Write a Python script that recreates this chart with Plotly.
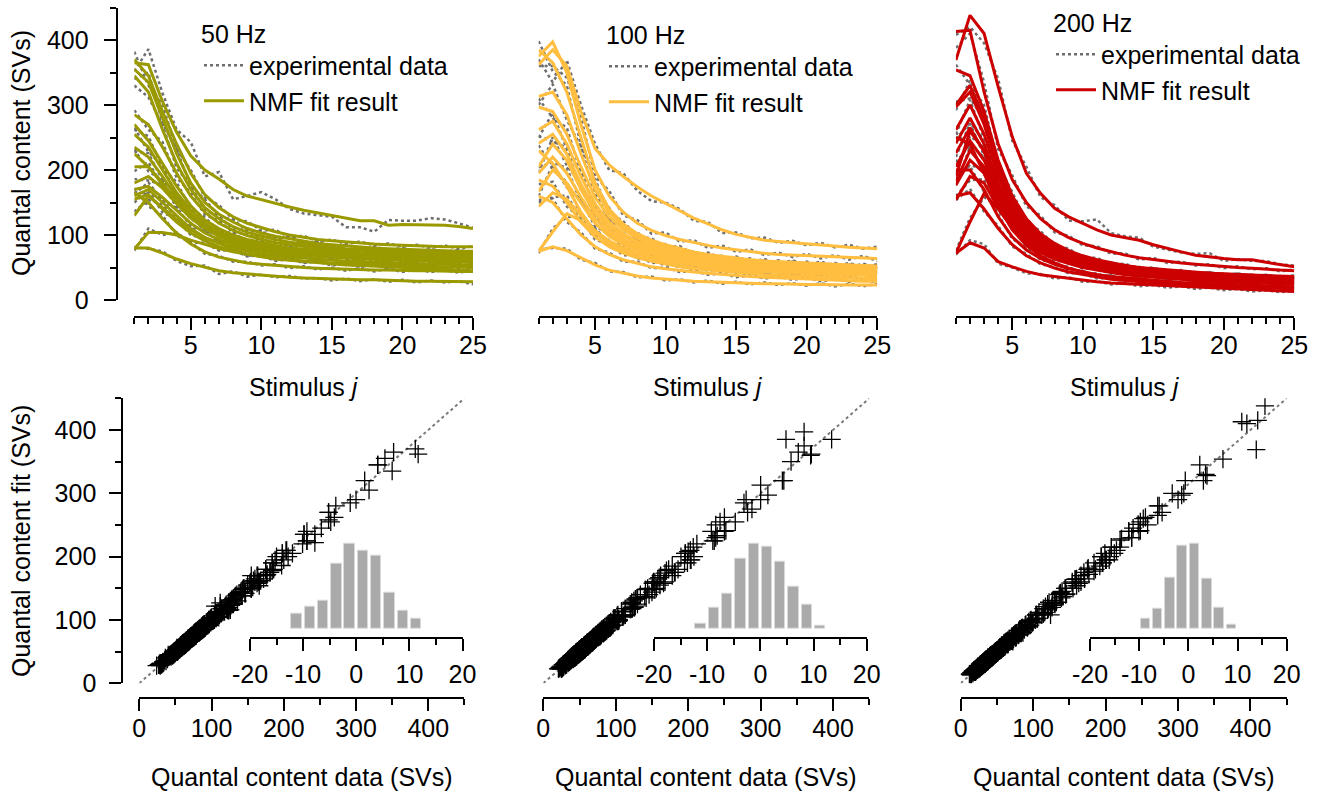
import plotly.graph_objects as go

W, H = 1323, 793
FONT = "Liberation Sans, Arial, sans-serif"

stimulus = list(range(1, 26))

# ---------------- 50 Hz ----------------
fit_50 = [
    [365, 362, 305, 258, 222, 200, 186, 170, 160, 154, 149, 143, 138, 134, 130, 127, 122, 122, 115, 116, 116, 116, 115, 113, 110],
    [370, 345, 290, 240, 195, 162, 142, 128, 118, 111, 105, 100, 96, 93, 91, 89, 87, 86, 85, 84, 83, 83, 82, 82, 82],
    [355, 335, 280, 225, 180, 150, 132, 120, 110, 103, 98, 94, 90, 87, 85, 83, 81, 80, 79, 78, 77, 76, 76, 75, 75],
    [345, 320, 262, 210, 170, 142, 125, 113, 104, 98, 93, 89, 86, 83, 81, 79, 78, 77, 76, 75, 74, 73, 73, 72, 72],
    [285, 270, 235, 195, 160, 135, 118, 107, 99, 93, 88, 85, 82, 80, 78, 76, 75, 74, 73, 72, 71, 70, 70, 69, 69],
    [270, 245, 210, 175, 145, 123, 110, 100, 93, 88, 84, 80, 78, 76, 74, 72, 71, 70, 69, 68, 67, 67, 66, 66, 65],
    [255, 235, 200, 165, 138, 118, 105, 96, 89, 84, 80, 77, 74, 72, 70, 69, 68, 67, 66, 65, 64, 64, 63, 63, 62],
    [235, 220, 190, 158, 132, 113, 101, 92, 86, 81, 77, 74, 72, 70, 68, 67, 66, 65, 64, 63, 62, 62, 61, 61, 60],
    [225, 205, 178, 150, 127, 110, 98, 90, 84, 79, 75, 72, 70, 68, 66, 65, 64, 63, 62, 61, 60, 60, 59, 59, 58],
    [205, 205, 180, 152, 128, 111, 100, 93, 87, 83, 80, 77, 75, 73, 72, 71, 70, 69, 68, 67, 66, 66, 65, 65, 64],
    [180, 190, 172, 148, 126, 110, 99, 91, 85, 81, 78, 75, 73, 71, 70, 69, 68, 67, 66, 65, 65, 64, 64, 63, 63],
    [170, 175, 158, 138, 118, 103, 93, 86, 80, 76, 73, 71, 69, 67, 66, 65, 64, 63, 62, 61, 61, 60, 60, 59, 59],
    [160, 170, 150, 130, 110, 96, 87, 80, 75, 71, 68, 66, 64, 62, 61, 60, 59, 58, 57, 56, 56, 55, 55, 54, 54],
    [155, 162, 140, 120, 103, 91, 82, 76, 71, 67, 64, 62, 60, 58, 57, 56, 55, 54, 53, 52, 52, 51, 51, 50, 50],
    [130, 160, 142, 124, 108, 96, 88, 82, 78, 75, 72, 70, 68, 67, 66, 65, 64, 63, 62, 62, 61, 61, 60, 60, 60],
    [165, 150, 125, 103, 86, 74, 66, 61, 57, 55, 53, 51, 50, 49, 48, 47, 47, 46, 46, 45, 45, 45, 44, 44, 44],
    [78, 104, 104, 100, 92, 85, 79, 74, 70, 66, 63, 61, 59, 57, 55, 54, 53, 52, 51, 50, 49, 48, 47, 46, 45],
    [80, 80, 72, 63, 56, 50, 45, 42, 40, 38, 36, 35, 34, 33, 32, 32, 31, 31, 30, 30, 29, 29, 29, 28, 28],
]
data_50 = [
    [352, 386, 318, 262, 243, 190, 197, 155, 160, 166, 155, 140, 133, 130, 128, 112, 112, 105, 123, 122, 122, 126, 124, 118, 111],
    [382, 330, 300, 232, 200, 158, 146, 124, 121, 107, 108, 96, 99, 90, 93, 86, 90, 84, 87, 82, 85, 80, 84, 79, 83],
    [340, 350, 272, 232, 175, 155, 128, 124, 106, 106, 95, 97, 87, 90, 83, 85, 79, 82, 77, 80, 75, 78, 74, 77, 73],
    [330, 312, 270, 203, 176, 138, 129, 109, 107, 95, 96, 86, 88, 81, 83, 77, 80, 75, 78, 73, 76, 71, 75, 70, 74],
    [292, 262, 243, 188, 165, 131, 122, 104, 102, 90, 91, 82, 84, 78, 80, 74, 77, 72, 75, 70, 73, 68, 72, 67, 71],
    [262, 252, 204, 181, 141, 127, 106, 103, 90, 91, 81, 82, 76, 78, 72, 74, 69, 72, 67, 70, 65, 69, 64, 68, 63],
    [265, 228, 206, 160, 142, 114, 108, 93, 92, 81, 83, 75, 76, 70, 72, 67, 70, 65, 68, 63, 66, 62, 65, 61, 64],
    [228, 226, 184, 163, 128, 116, 98, 95, 83, 84, 75, 76, 70, 72, 66, 69, 64, 67, 62, 65, 60, 64, 59, 63, 58],
    [232, 198, 184, 145, 131, 106, 101, 87, 87, 76, 78, 70, 72, 66, 68, 63, 66, 61, 64, 59, 62, 58, 61, 57, 60],
    [198, 212, 175, 157, 124, 114, 97, 96, 84, 86, 77, 79, 73, 75, 70, 73, 68, 71, 66, 69, 64, 68, 63, 67, 62],
    [186, 184, 177, 143, 130, 106, 102, 88, 88, 78, 80, 73, 75, 69, 72, 67, 70, 65, 68, 63, 67, 62, 66, 61, 65],
    [163, 181, 153, 142, 114, 106, 90, 89, 77, 79, 71, 73, 67, 69, 64, 67, 62, 65, 60, 63, 59, 62, 58, 61, 57],
    [166, 164, 155, 126, 113, 93, 90, 77, 78, 69, 70, 64, 66, 60, 63, 58, 61, 56, 59, 54, 58, 53, 57, 52, 56],
    [150, 168, 135, 124, 100, 94, 79, 79, 68, 69, 62, 64, 58, 60, 55, 58, 53, 56, 51, 54, 50, 53, 49, 52, 48],
    [136, 154, 147, 120, 111, 93, 91, 79, 80, 73, 74, 68, 70, 65, 68, 63, 66, 61, 64, 60, 63, 59, 62, 58, 62],
    [172, 144, 130, 99, 89, 71, 68, 59, 59, 53, 55, 49, 52, 47, 50, 45, 49, 44, 48, 43, 47, 43, 46, 42, 46],
    [76, 110, 100, 104, 88, 88, 76, 77, 67, 69, 60, 63, 57, 59, 53, 56, 51, 54, 49, 52, 47, 50, 45, 48, 43],
    [82, 78, 75, 60, 52, 53, 40, 44, 36, 39, 35, 37, 33, 34, 30, 33, 29, 32, 28, 31, 27, 30, 27, 29, 24],
]

# ---------------- 100 Hz ----------------
fit_100 = [
    [362, 385, 360, 290, 233, 208, 190, 174, 160, 149, 137, 126, 117, 108, 101, 96, 92, 90, 88, 86, 84, 83, 81, 80, 79],
    [375, 397, 350, 270, 200, 160, 135, 118, 107, 99, 93, 88, 84, 80, 77, 74, 72, 70, 69, 68, 67, 66, 65, 65, 64],
    [385, 365, 320, 250, 180, 140, 117, 102, 92, 85, 79, 74, 70, 67, 64, 62, 60, 59, 58, 57, 56, 55, 54, 53, 52],
    [313, 320, 285, 225, 170, 135, 113, 99, 89, 82, 77, 72, 68, 65, 63, 61, 59, 58, 57, 56, 55, 54, 53, 53, 52],
    [297, 290, 255, 205, 158, 128, 108, 95, 86, 79, 74, 70, 67, 64, 62, 60, 58, 57, 56, 55, 54, 53, 52, 52, 51],
    [262, 275, 240, 190, 148, 120, 102, 90, 82, 76, 71, 67, 64, 62, 60, 58, 57, 56, 55, 54, 53, 52, 52, 51, 51],
    [241, 255, 225, 178, 140, 114, 98, 87, 79, 73, 69, 65, 62, 60, 58, 56, 55, 54, 53, 52, 51, 51, 50, 50, 49],
    [205, 240, 215, 170, 133, 108, 93, 83, 76, 70, 66, 63, 60, 58, 56, 55, 54, 53, 52, 51, 50, 50, 49, 49, 48],
    [195, 220, 195, 158, 125, 103, 89, 80, 73, 68, 64, 61, 58, 56, 55, 53, 52, 51, 50, 49, 48, 48, 47, 47, 46],
    [167, 200, 180, 148, 118, 98, 85, 76, 70, 65, 61, 58, 56, 54, 52, 51, 50, 49, 48, 47, 46, 46, 45, 45, 44],
    [144, 165, 155, 130, 107, 91, 80, 72, 66, 62, 58, 55, 53, 51, 49, 48, 47, 46, 45, 44, 43, 43, 42, 42, 41],
    [185, 175, 150, 120, 97, 82, 72, 65, 60, 56, 53, 50, 48, 46, 45, 44, 43, 42, 41, 40, 39, 39, 38, 38, 37],
    [75, 105, 133, 122, 103, 88, 77, 70, 64, 60, 57, 54, 52, 50, 48, 47, 46, 45, 44, 43, 42, 42, 41, 41, 40],
    [75, 82, 76, 65, 54, 46, 41, 37, 34, 32, 30, 29, 28, 27, 26, 26, 25, 25, 24, 24, 24, 23, 23, 23, 23],
    [230, 210, 175, 135, 105, 86, 74, 66, 60, 55, 51, 48, 46, 44, 42, 40, 39, 38, 37, 36, 35, 34, 34, 33, 33],
    [160, 150, 125, 100, 82, 70, 62, 56, 51, 48, 45, 43, 41, 39, 37, 36, 35, 34, 33, 32, 31, 30, 30, 29, 29],
]
data_100 = [
    [370, 335, 369, 300, 240, 200, 195, 168, 152, 150, 140, 122, 120, 103, 104, 95, 96, 88, 91, 84, 88, 81, 85, 79, 82],
    [360, 360, 342, 282, 190, 168, 130, 123, 102, 104, 90, 92, 80, 84, 74, 78, 69, 73, 66, 71, 64, 69, 62, 68, 60],
    [398, 352, 330, 238, 186, 134, 121, 97, 95, 81, 83, 70, 73, 64, 67, 59, 63, 56, 61, 54, 59, 52, 57, 50, 55],
    [300, 332, 277, 236, 162, 142, 108, 104, 85, 86, 73, 75, 65, 68, 60, 64, 56, 61, 54, 59, 52, 57, 50, 56, 49],
    [310, 280, 265, 196, 166, 122, 113, 91, 90, 75, 78, 67, 70, 61, 65, 57, 61, 54, 59, 52, 57, 50, 55, 49, 54],
    [250, 288, 232, 199, 141, 126, 97, 94, 78, 80, 68, 70, 61, 65, 57, 61, 54, 59, 52, 57, 50, 55, 49, 54, 48],
    [252, 244, 234, 170, 146, 108, 103, 83, 83, 69, 72, 62, 65, 57, 61, 53, 58, 51, 56, 49, 54, 48, 53, 47, 52],
    [196, 250, 207, 178, 127, 113, 89, 87, 72, 73, 63, 66, 57, 61, 53, 58, 51, 56, 49, 54, 47, 53, 46, 52, 45],
    [204, 212, 203, 151, 130, 99, 93, 76, 76, 65, 67, 58, 61, 53, 58, 50, 55, 48, 53, 46, 51, 45, 50, 44, 49],
    [160, 208, 173, 154, 113, 102, 81, 79, 67, 68, 58, 61, 53, 57, 49, 54, 47, 52, 45, 50, 43, 49, 42, 48, 41],
    [150, 158, 161, 125, 111, 87, 83, 69, 69, 59, 61, 52, 56, 48, 52, 45, 50, 43, 48, 41, 46, 40, 45, 39, 44],
    [178, 182, 144, 125, 93, 85, 69, 68, 57, 58, 50, 52, 45, 48, 42, 47, 40, 45, 38, 43, 36, 42, 35, 41, 34],
    [72, 110, 128, 127, 99, 92, 74, 73, 61, 63, 54, 57, 49, 53, 45, 50, 43, 48, 41, 46, 39, 45, 38, 44, 37],
    [78, 80, 79, 62, 57, 44, 43, 35, 36, 30, 32, 27, 30, 25, 28, 24, 27, 23, 26, 22, 26, 21, 25, 21, 25],
    [238, 203, 181, 130, 109, 83, 77, 63, 62, 53, 53, 46, 48, 42, 44, 38, 41, 36, 39, 34, 37, 32, 36, 31, 35],
    [154, 156, 120, 104, 79, 73, 59, 59, 49, 50, 43, 45, 39, 41, 35, 38, 33, 36, 31, 34, 29, 32, 28, 31, 27],
]

# ---------------- 200 Hz ----------------
fit_200 = [
    [369, 438, 410, 328, 251, 195, 164, 141, 128, 118, 108, 100, 96, 92, 85, 79, 74, 69, 66, 64, 62, 62, 58, 54, 51],
    [413, 415, 320, 240, 185, 150, 125, 108, 96, 87, 80, 74, 69, 65, 62, 59, 57, 55, 53, 51, 50, 49, 47, 46, 45],
    [354, 345, 290, 215, 160, 125, 102, 87, 76, 68, 62, 57, 53, 50, 48, 46, 44, 42, 41, 40, 39, 38, 37, 37, 36],
    [297, 320, 270, 200, 150, 118, 97, 83, 73, 66, 60, 55, 52, 49, 46, 44, 42, 40, 39, 38, 37, 36, 35, 35, 34],
    [262, 300, 255, 190, 143, 112, 93, 80, 70, 63, 57, 53, 50, 47, 44, 42, 40, 39, 38, 37, 36, 35, 34, 34, 33],
    [241, 280, 240, 180, 137, 108, 89, 76, 67, 60, 55, 51, 48, 45, 42, 40, 38, 37, 36, 35, 34, 33, 32, 32, 31],
    [226, 265, 228, 172, 131, 103, 85, 73, 64, 58, 53, 49, 46, 43, 40, 38, 37, 35, 34, 33, 32, 31, 30, 30, 29],
    [205, 245, 215, 165, 126, 99, 82, 70, 62, 56, 51, 47, 44, 41, 39, 37, 35, 34, 33, 32, 31, 30, 29, 29, 28],
    [182, 230, 205, 158, 121, 96, 79, 68, 60, 54, 49, 45, 42, 40, 38, 36, 34, 33, 32, 31, 30, 29, 28, 28, 27],
    [177, 215, 195, 150, 116, 92, 77, 66, 58, 52, 47, 44, 41, 38, 36, 34, 33, 31, 30, 29, 28, 27, 27, 26, 26],
    [154, 190, 180, 142, 110, 88, 73, 63, 56, 50, 46, 42, 39, 37, 35, 33, 31, 30, 29, 28, 27, 26, 25, 25, 24],
    [72, 120, 164, 140, 112, 91, 77, 67, 60, 55, 51, 47, 45, 42, 40, 38, 37, 36, 35, 34, 33, 32, 32, 31, 31],
    [72, 88, 80, 59, 51, 44, 39, 36, 33, 30, 28, 26, 25, 23, 22, 21, 20, 19, 18, 17, 16, 15, 14, 14, 13],
    [190, 260, 230, 175, 135, 108, 90, 78, 70, 64, 59, 55, 52, 49, 47, 45, 43, 42, 41, 40, 39, 38, 37, 36, 35],
    [200, 200, 170, 128, 97, 77, 64, 55, 48, 43, 39, 36, 34, 32, 30, 28, 27, 26, 25, 24, 23, 22, 21, 21, 20],
    [250, 240, 195, 145, 108, 84, 68, 57, 49, 43, 39, 35, 32, 30, 28, 26, 25, 24, 23, 22, 21, 20, 19, 19, 18],
    [160, 165, 140, 110, 85, 68, 57, 49, 43, 39, 35, 32, 30, 28, 26, 25, 24, 23, 22, 21, 20, 19, 18, 18, 17],
    [300, 330, 280, 210, 158, 123, 100, 85, 74, 66, 60, 56, 52, 49, 46, 44, 42, 41, 40, 39, 38, 37, 36, 35, 35],
]
data_200 = [
    [408, 420, 395, 340, 245, 205, 158, 146, 122, 121, 124, 103, 98, 96, 82, 77, 73, 71, 72, 60, 63, 60, 60, 55, 53],
    [388, 410, 335, 232, 192, 144, 130, 104, 99, 84, 83, 71, 72, 62, 65, 57, 59, 53, 55, 49, 52, 47, 49, 44, 47],
    [362, 330, 300, 208, 166, 120, 106, 84, 79, 65, 65, 54, 56, 48, 50, 44, 46, 40, 43, 38, 41, 36, 39, 35, 38],
    [305, 310, 278, 194, 155, 114, 100, 80, 76, 63, 62, 53, 54, 47, 48, 42, 44, 38, 41, 36, 39, 34, 37, 33, 36],
    [255, 308, 248, 196, 138, 116, 90, 83, 67, 65, 55, 55, 48, 49, 42, 44, 38, 41, 36, 39, 34, 37, 32, 36, 31],
    [248, 272, 246, 175, 141, 104, 92, 73, 70, 58, 57, 49, 50, 43, 44, 38, 40, 35, 38, 33, 36, 31, 34, 30, 33],
    [220, 272, 222, 177, 127, 106, 82, 76, 61, 60, 51, 51, 44, 45, 38, 40, 35, 37, 32, 35, 30, 33, 28, 32, 27],
    [212, 238, 220, 160, 130, 96, 85, 67, 65, 54, 53, 45, 46, 39, 41, 35, 37, 32, 35, 30, 33, 28, 31, 27, 30],
    [176, 236, 199, 163, 117, 99, 76, 71, 57, 56, 47, 47, 40, 42, 36, 38, 32, 35, 30, 33, 28, 31, 26, 30, 25],
    [184, 208, 200, 145, 120, 89, 80, 63, 61, 50, 49, 42, 43, 36, 38, 32, 35, 29, 32, 27, 30, 25, 29, 24, 28],
    [160, 184, 186, 137, 114, 85, 76, 60, 59, 48, 48, 40, 41, 35, 37, 31, 33, 28, 31, 26, 29, 24, 27, 23, 26],
    [76, 126, 158, 145, 108, 94, 74, 70, 57, 57, 49, 49, 43, 44, 38, 40, 35, 38, 33, 36, 31, 34, 30, 33, 29],
    [70, 92, 86, 56, 50, 41, 40, 33, 35, 28, 29, 24, 26, 21, 23, 19, 21, 17, 19, 15, 17, 13, 15, 12, 14],
    [196, 252, 236, 170, 139, 105, 93, 75, 73, 62, 61, 53, 54, 47, 49, 43, 45, 40, 43, 38, 41, 36, 39, 34, 37],
    [194, 206, 166, 132, 94, 80, 62, 57, 46, 45, 37, 38, 32, 34, 28, 30, 25, 28, 23, 26, 21, 24, 19, 23, 18],
    [258, 232, 201, 140, 112, 81, 71, 55, 51, 41, 41, 33, 34, 28, 30, 24, 27, 22, 25, 20, 23, 18, 21, 17, 20],
    [154, 171, 136, 114, 82, 71, 55, 51, 41, 41, 33, 34, 28, 30, 24, 27, 22, 25, 20, 23, 18, 21, 16, 20, 15],
    [292, 338, 274, 215, 154, 126, 97, 88, 71, 68, 58, 58, 50, 51, 44, 46, 40, 43, 38, 41, 36, 39, 34, 37, 33],
]

# ---------------- residual histograms (insets) ----------------
hist_centers_50 = [-11.25, -8.75, -6.25, -3.75, -1.25, 1.25, 3.75, 6.25, 8.75, 11.25]
hist_counts_50 = [17, 26, 33, 77, 101, 93, 87, 43, 21, 12]
hist_centers_100 = [-11.25, -8.75, -6.25, -3.75, -1.25, 1.25, 3.75, 6.25, 8.75, 11.25]
hist_counts_100 = [6, 25, 41, 83, 102, 98, 80, 50, 28, 3]
hist_centers_200 = [-8.75, -6.25, -3.75, -1.25, 1.25, 3.75, 6.25, 8.75]
hist_counts_200 = [11, 23, 61, 99, 102, 60, 25, 4]

diag = [0, 450]
inset_ticks = [-20, -10, 0, 10, 20]
inset_ticktext = ["-20", "-10", "0", "10", "20"]

panels = [
    ("50 Hz", fit_50, data_50, "#9A9A00", hist_centers_50, hist_counts_50),
    ("100 Hz", fit_100, data_100, "#FFBE3F", hist_centers_100, hist_counts_100),
    ("200 Hz", fit_200, data_200, "#CC0000", hist_centers_200, hist_counts_200),
]

# ---------------- pixel-based layout helpers ----------------
def px(x):
    return x / W

def py(y):
    return 1 - y / H

top_xdom = [(134.3, 473.0), (538.6, 877.3), (955.9, 1294.3)]
top_ydom = (300.0, 7.5)
bot_xdom = [(139.3, 464.4), (543.3, 869.3), (960.7, 1286.7)]
bot_ydom = (683.3, 398.3)
ins_xdom = [(250.0, 462.5), (654.0, 866.7), (1090.0, 1286.7)]
ins_ydom = (636.7, 536.7)
legend_pos = [(199, 10), (604, 11), (1051, -1)]

fig = go.Figure()

for k, (name, fits, datas, color, hc, hn) in enumerate(panels):
    s = "" if k == 0 else str(k + 1)
    xa_t, ya_t = "x" + s, "y" + s
    xa_b, ya_b = "x" + str(k + 4), "y" + str(k + 4)
    xa_i, ya_i = "x" + str(k + 7), "y" + str(k + 7)
    leg = "legend" + s

    # experimental data (dotted gray)
    for i, d in enumerate(datas):
        fig.add_trace(go.Scatter(
            x=stimulus, y=d, mode="lines", xaxis=xa_t, yaxis=ya_t,
            line=dict(color="#6E6E6E", width=2.5, dash="dot"),
            name="experimental data", showlegend=(i == 0), legend=leg,
            hoverinfo="skip"))
    # NMF fits
    for i, f in enumerate(fits):
        fig.add_trace(go.Scatter(
            x=stimulus, y=f, mode="lines", xaxis=xa_t, yaxis=ya_t,
            line=dict(color=color, width=3),
            name="NMF fit result", showlegend=(i == 0), legend=leg,
            hoverinfo="skip"))

    # scatter: data vs fit
    xs = [v for d in datas for v in d]
    ys = [v for f in fits for v in f]
    fig.add_trace(go.Scatter(
        x=diag, y=diag, mode="lines", xaxis=xa_b, yaxis=ya_b,
        line=dict(color="#7A7A7A", width=2, dash="dot"), showlegend=False))
    fig.add_trace(go.Scatter(
        x=xs, y=ys, mode="markers", xaxis=xa_b, yaxis=ya_b,
        marker=dict(symbol="cross-thin", size=13, color="black",
                    line=dict(color="black", width=1.3)),
        showlegend=False))

    # histogram inset
    fig.add_trace(go.Bar(
        x=hc, y=hn, xaxis=xa_i, yaxis=ya_i, width=1.95,
        marker=dict(color="#AAAAAA", line=dict(color="#DADADA", width=1)),
        showlegend=False))

axis_common = dict(
    showline=True, linecolor="black", linewidth=2, mirror=False,
    ticks="outside", tickcolor="black", tickwidth=2, ticklen=12,
    showgrid=False, zeroline=False, automargin=False,
    tickfont=dict(family=FONT, size=25, color="black"),
    minor=dict(ticks="outside", ticklen=6, tickwidth=2, tickcolor="black", showgrid=False),
)

layout = dict(
    template="none",
    width=W, height=H, margin=dict(l=0, r=0, t=0, b=0, pad=0, autoexpand=False),
    paper_bgcolor="white", plot_bgcolor="rgba(0,0,0,0)",
    font=dict(family=FONT, size=25, color="black"),
    showlegend=True, bargap=0,
)

for k in range(3):
    s = "" if k == 0 else str(k + 1)
    # top panels
    xd = top_xdom[k]
    layout["xaxis" + s] = dict(
        axis_common, domain=[px(xd[0]), px(xd[1])], range=[1, 25],
        anchor="free", position=py(316.7), dtick=5, tick0=0,
        minor=dict(axis_common["minor"], dtick=1, tick0=0),
        ticklabelstandoff=-6)
    ydict = dict(axis_common, domain=[py(top_ydom[0]), py(top_ydom[1])],
                 range=[0, 450], dtick=100, tick0=0,
                 minor=dict(axis_common["minor"], dtick=50, tick0=0),
                 anchor="free", position=px(116.7), ticklabelstandoff=10)
    if k > 0:
        ydict = dict(domain=[py(top_ydom[0]), py(top_ydom[1])], range=[0, 450],
                     visible=False, anchor="x" + s, automargin=False)
    layout["yaxis" + s] = ydict

    # bottom panels
    b = str(k + 4)
    xd = bot_xdom[k]
    layout["xaxis" + b] = dict(
        axis_common, domain=[px(xd[0]), px(xd[1])], range=[0, 450],
        anchor="free", position=py(698.3), dtick=100, tick0=0,
        minor=dict(axis_common["minor"], dtick=50, tick0=0),
        ticklabelstandoff=-4)
    ydict = dict(axis_common, domain=[py(bot_ydom[0]), py(bot_ydom[1])],
                 range=[0, 450], dtick=100, tick0=0,
                 minor=dict(axis_common["minor"], dtick=50, tick0=0),
                 anchor="free", position=px(122.3), ticklabelstandoff=8)
    if k > 0:
        ydict = dict(domain=[py(bot_ydom[0]), py(bot_ydom[1])], range=[0, 450],
                     visible=False, anchor="x" + b, automargin=False)
    layout["yaxis" + b] = ydict

    # insets
    n = str(k + 7)
    xd = ins_xdom[k]
    layout["xaxis" + n] = dict(
        axis_common, domain=[px(xd[0]), px(xd[1])], range=[-20, 20],
        anchor="y" + n, tickmode="array", tickvals=inset_ticks,
        ticktext=inset_ticktext,
        minor=dict(axis_common["minor"], tickmode="linear", dtick=5, tick0=0),
        ticklabelstandoff=2)
    layout["yaxis" + n] = dict(
        domain=[py(ins_ydom[0]), py(ins_ydom[1])], range=[-10, 109.8],
        visible=False, anchor="x" + n, automargin=False)

    # legends
    lx, ly = legend_pos[k]
    layout["legend" + s] = dict(
        x=px(lx), y=py(ly), xanchor="left", yanchor="top",
        bgcolor="rgba(0,0,0,0)", borderwidth=0,
        font=dict(family=FONT, size=25, color="black"),
        title=dict(text=panels[k][0], font=dict(family=FONT, size=25, color="black")),
        itemwidth=40, tracegroupgap=0)

fig.update_layout(**layout)

annos = []
for k in range(3):
    cx = (top_xdom[k][0] + top_xdom[k][1]) / 2
    annos.append(dict(text="Stimulus <i>j</i>", x=px(cx), y=py(387), xref="paper", yref="paper",
                      showarrow=False, xanchor="center", yanchor="middle",
                      font=dict(family=FONT, size=25, color="black")))
    cx = (bot_xdom[k][0] + bot_xdom[k][1]) / 2
    annos.append(dict(text="Quantal content data (SVs)", x=px(cx), y=py(777), xref="paper", yref="paper",
                      showarrow=False, xanchor="center", yanchor="middle",
                      font=dict(family=FONT, size=25, color="black")))
annos.append(dict(text="Quantal content (SVs)", x=px(21), y=py(153), xref="paper", yref="paper",
                  showarrow=False, textangle=-90, xanchor="center", yanchor="middle",
                  font=dict(family=FONT, size=25, color="black")))
annos.append(dict(text="Quantal content fit (SVs)", x=px(21), y=py(541), xref="paper", yref="paper",
                  showarrow=False, textangle=-90, xanchor="center", yanchor="middle",
                  font=dict(family=FONT, size=25, color="black")))
fig.update_layout(annotations=annos)

fig.write_html("out.html")
